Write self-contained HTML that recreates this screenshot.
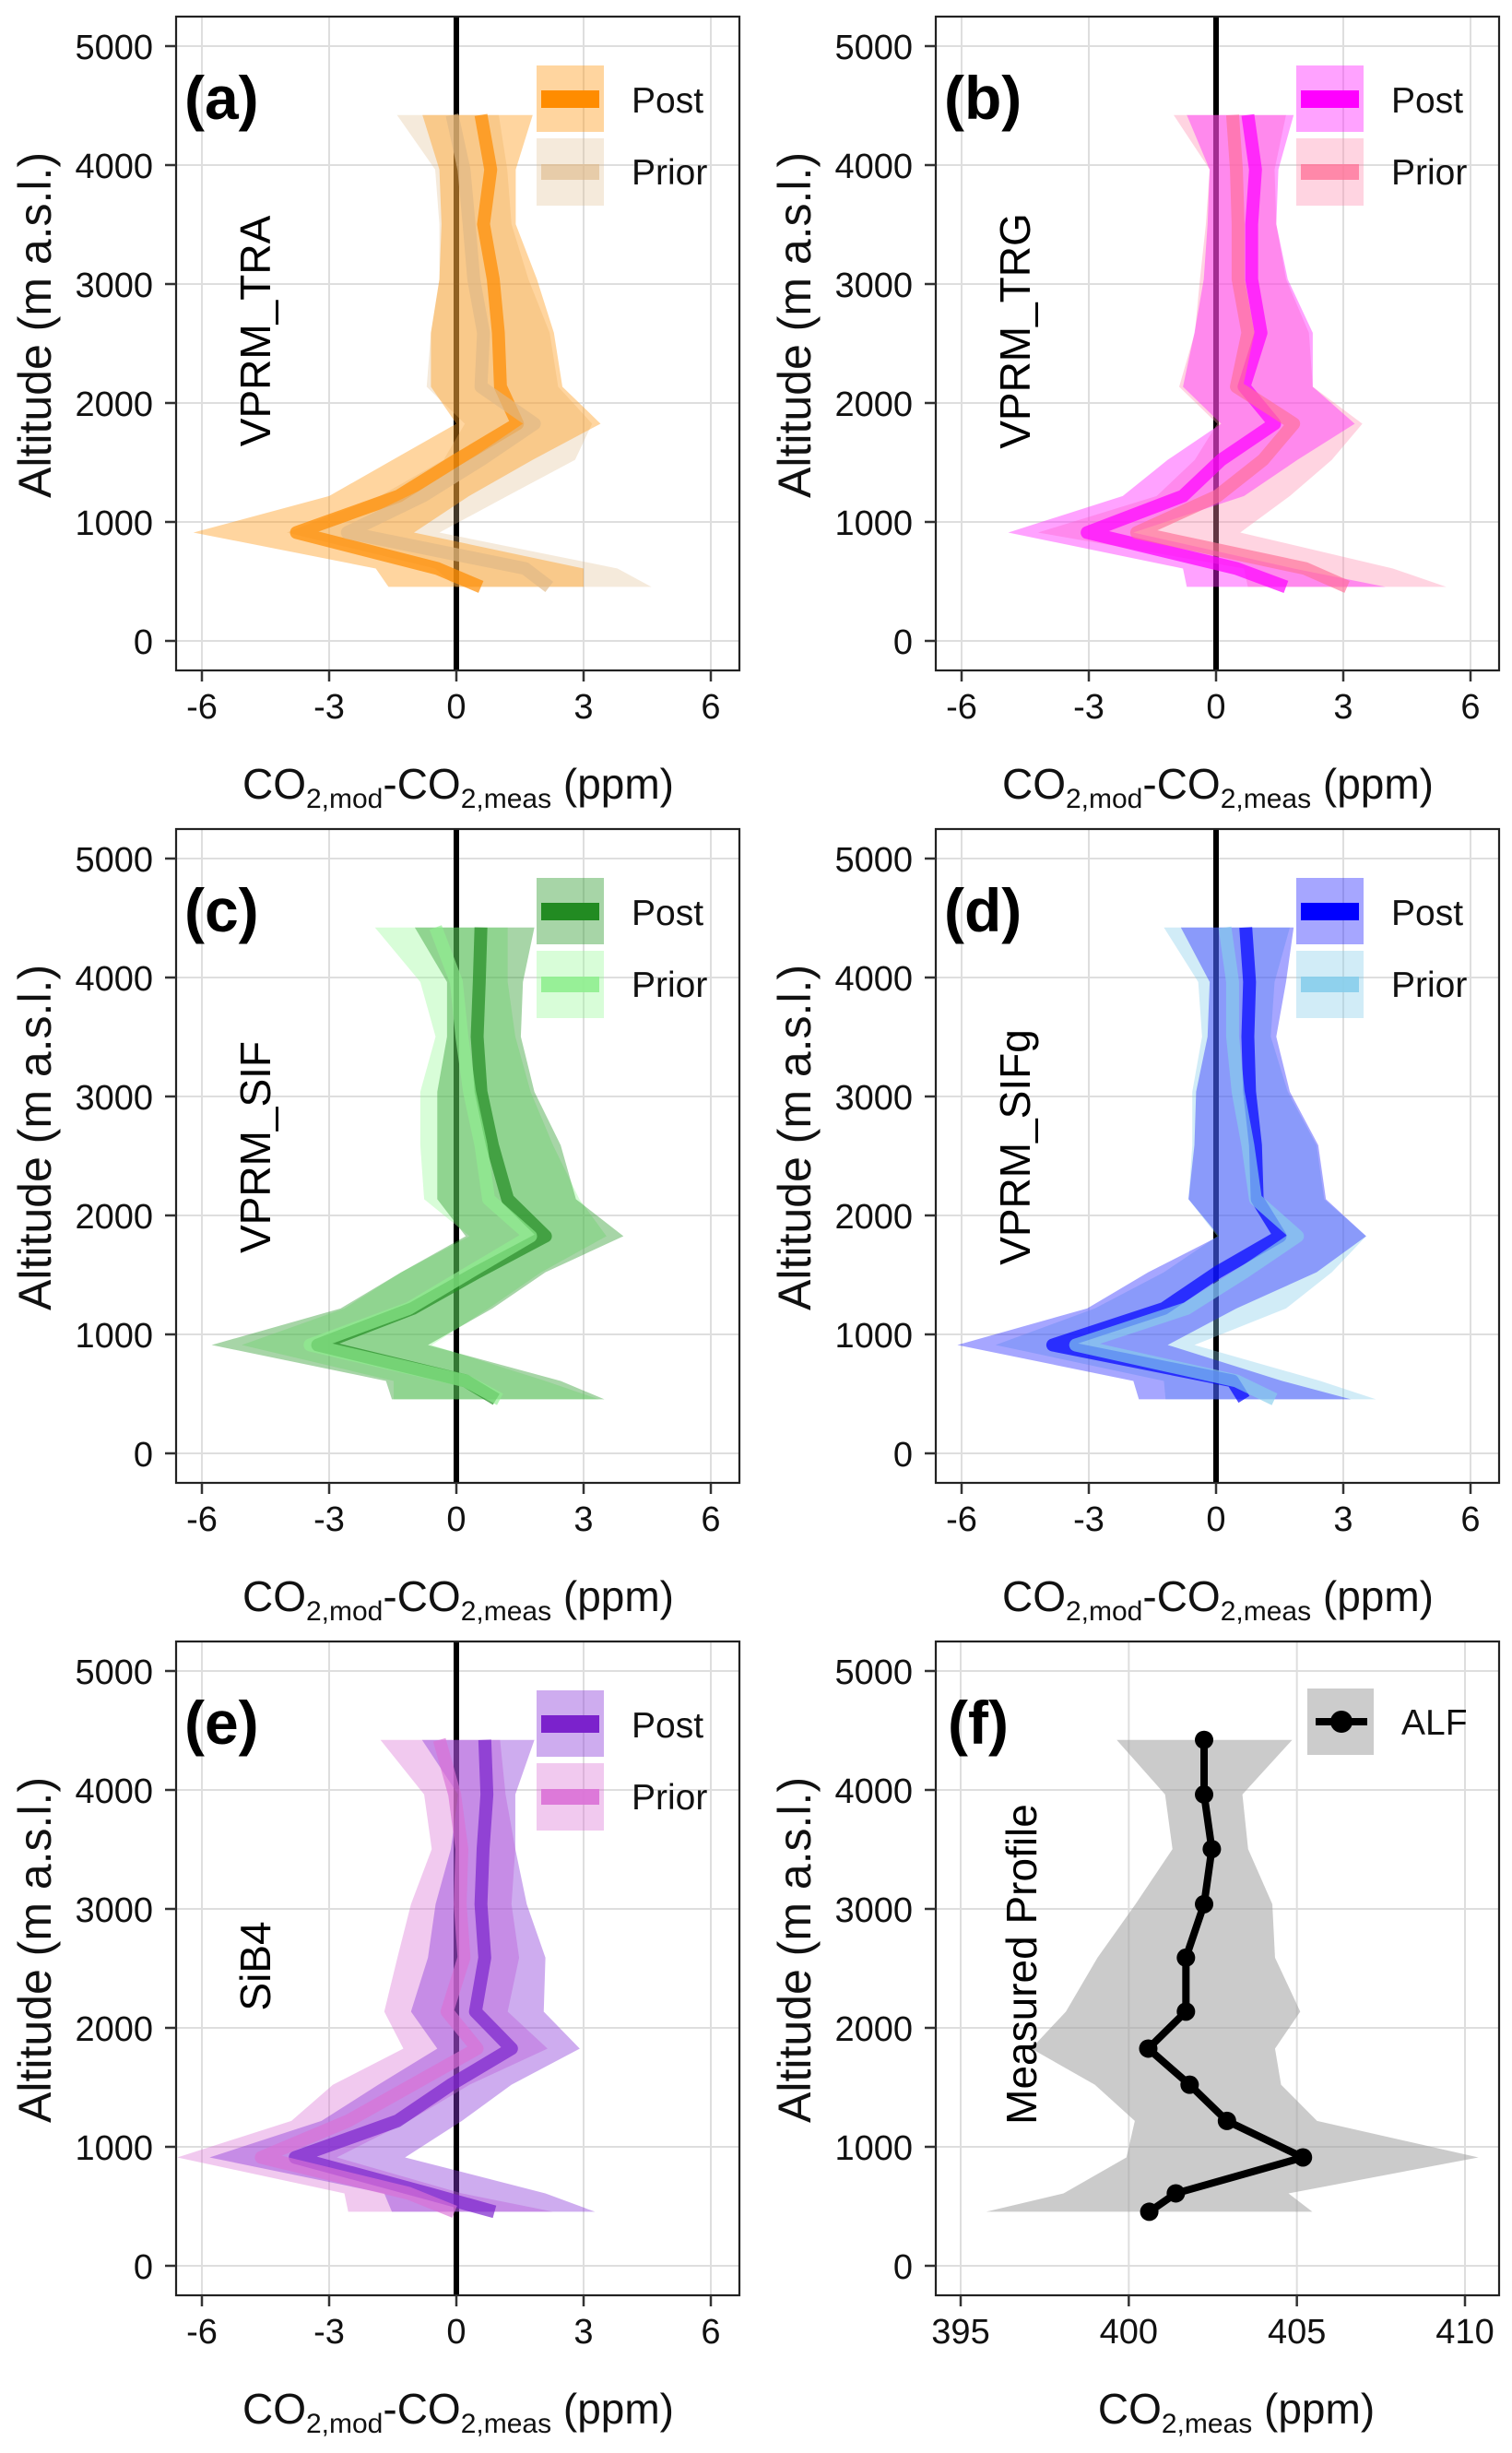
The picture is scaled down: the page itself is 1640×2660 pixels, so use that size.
<!DOCTYPE html>
<html><head><meta charset="utf-8"><title>CO2 profiles</title>
<style>
html,body{margin:0;padding:0;background:#fff;}
svg{display:block;font-family:"Liberation Sans",Arial,sans-serif;}
</style></head>
<body>
<svg id="fig" width="1640" height="2660" viewBox="0 0 1640 2660" xmlns="http://www.w3.org/2000/svg"></svg>
<script>
// ---------- data ----------
const alts = [4421,3962,3503,3040,2590,2137,1826,1522,1218,911,609,454];
const xTicks = [-6,-3,0,3,6];
const xTickLabels = ["-6","-3","0","3","6"];
const yTicks = [0,1000,2000,3000,4000,5000];
const yTickLabels = ["0","1000","2000","3000","4000","5000"];
const fTicks = [395,400,405,410];
const fTickLabels = ["395","400","405","410"];

// panel a VPRM_TRA
const aPost = [0.58,0.81,0.64,0.87,0.99,1.04,1.44,0.01,-1.36,-3.77,-0.45,0.58];
const aPrior = [-0.1,0.18,0.3,0.41,0.64,0.58,1.84,0.58,-0.79,-2.57,1.62,2.19];
const aPostLo = [-0.8,-0.4,-0.35,-0.4,-0.6,-0.6,0.0,-1.5,-3.0,-6.2,-1.9,-1.6];
const aPostHi = [1.8,1.4,1.4,1.9,2.3,2.5,3.4,1.8,0.3,-1.0,3.0,3.0];
const aPriorLo = [-1.4,-0.5,-0.4,-0.4,-0.6,-0.7,0.2,-0.3,-1.8,-4.0,-0.5,0.0];
const aPriorHi = [1.0,1.2,1.3,1.7,2.2,2.4,3.2,2.8,1.2,-0.4,3.8,4.6];
// panel b VPRM_TRG
const bPost = [0.75,0.93,0.84,0.84,1.06,0.66,1.38,0.12,-0.78,-3.04,0.48,1.65];
const bPrior = [0.39,0.48,0.52,0.52,0.75,0.48,1.83,1.11,0.03,-1.87,2.1,3.09];
const bPostLo = [-0.69,-0.15,-0.2,-0.29,-0.51,-0.78,0.12,-1.14,-2.2,-4.9,-0.78,-0.69];
const bPostHi = [1.83,1.47,1.42,1.69,2.28,2.28,3.27,1.92,0.66,-1.95,1.83,4.0];
const bPriorLo = [-1.0,-0.15,-0.24,-0.38,-0.5,-0.87,0.03,-0.5,-1.4,-4.2,0.66,0.75];
const bPriorHi = [1.65,1.38,1.42,1.65,2.19,2.28,3.45,2.73,1.74,0.57,4.17,5.43];
// panel c VPRM_SIF
const cPost = [0.58,0.54,0.49,0.58,0.85,1.21,2.1,0.49,-1.03,-3.27,0.22,0.94];
const cPrior = [-0.49,0.0,0.13,0.31,0.58,0.76,1.75,0.31,-1.12,-3.45,0.22,1.03];
const cPostLo = [-0.98,-0.22,-0.22,-0.45,-0.45,-0.45,0.22,-1.3,-2.73,-5.77,-1.66,-1.52];
const cPostHi = [1.84,1.57,1.52,1.84,2.46,2.82,3.94,2.1,0.85,-0.67,2.46,3.49];
const cPriorLo = [-1.92,-0.85,-0.49,-0.85,-0.85,-0.76,0.31,-1.3,-2.64,-5.06,-1.48,-1.48];
const cPriorHi = [1.21,1.21,1.39,1.75,2.28,2.9,3.54,2.0,0.76,-0.58,2.1,3.36];
// panel d VPRM_SIFg
const dPost = [0.7,0.79,0.75,0.79,0.93,0.97,1.51,0.03,-1.23,-3.85,0.39,0.66];
const dPrior = [0.21,0.39,0.39,0.52,0.75,0.93,1.92,0.66,-0.69,-3.31,0.48,1.38];
const dPostLo = [-0.83,-0.15,-0.2,-0.47,-0.51,-0.65,0.07,-1.6,-3.04,-6.1,-1.95,-1.82];
const dPostHi = [1.83,1.65,1.42,1.74,2.41,2.59,3.54,2.37,0.48,-1.14,1.56,3.18];
const dPriorLo = [-1.23,-0.42,-0.33,-0.56,-0.56,-0.65,0.03,-1.23,-2.86,-5.2,-1.23,-1.19];
const dPriorHi = [1.74,1.38,1.29,1.69,2.37,2.55,3.54,2.73,1.65,-0.51,2.46,3.77];
// panel e SiB4
const ePost = [0.67,0.72,0.63,0.58,0.67,0.45,1.3,-0.13,-1.39,-3.8,-0.67,0.9];
const ePrior = [-0.4,-0.04,0.13,0.09,0.18,-0.22,0.49,-1.03,-2.55,-4.6,-1.12,-0.04];
const ePostLo = [-0.81,0.04,-0.13,-0.49,-0.67,-1.07,-0.45,-1.84,-3.18,-5.82,-1.7,-1.52];
const ePostHi = [1.84,1.39,1.39,1.66,2.1,2.06,2.91,1.3,0.13,-1.21,2.1,3.27];
const ePriorLo = [-1.79,-0.76,-0.58,-1.07,-1.39,-1.7,-1.25,-2.91,-3.89,-6.58,-2.64,-2.55];
const ePriorHi = [1.03,1.16,1.39,1.3,1.48,1.21,2.15,0.31,-1.12,-2.82,0.13,2.28];
// panel f measured profile ALF
const fMean = [402.24,402.24,402.47,402.24,401.70,401.70,400.58,401.81,402.92,405.18,401.40,400.61];
const fLo = [399.64,401.08,401.30,400.2,399.07,398.13,397.1,398.99,400.18,399.93,398.06,395.76];
const fHi = [404.86,403.38,403.55,404.27,404.35,405.1,404.35,404.53,405.6,410.4,404.75,405.46];

// ---------- drawing ----------
const NS = "http://www.w3.org/2000/svg";
const svg = document.getElementById("fig");
function mk(tag, attrs, parent){
  const e = document.createElementNS(NS, tag);
  for (const k in attrs) e.setAttribute(k, attrs[k]);
  (parent || svg).appendChild(e);
  return e;
}
const BOX = {l:191, r:802, t:18, b:727};
function yScale(oy, alt){ return oy + 695 - alt*0.129; }

function drawFrame(g, ox, oy, xs, ticks){
  for (const t of ticks){
    const x = xs(t);
    const gl = mk("line",{x1:x,x2:x,y1:oy+BOX.t,y2:oy+BOX.b,stroke:"#dedede","stroke-width":2},g);
    
    
  }
  for (const t of yTicks){
    const y = yScale(oy,t);
    const gl = mk("line",{x1:ox+BOX.l,x2:ox+BOX.r,y1:y,y2:y,stroke:"#dedede","stroke-width":2},g);
    
    
  }
}
function drawAxes(g, ox, oy, xs, ticks, labels, xTitleParts, xTitleCx){
  const fr = mk("rect",{x:ox+BOX.l,y:oy+BOX.t,width:BOX.r-BOX.l,height:BOX.b-BOX.t,fill:"none",stroke:"#222","stroke-width":2.2},g);
  
  
  yTicks.forEach((t,i)=>{
    const y = yScale(oy,t);
    const tk = mk("line",{x1:ox+BOX.l-12,x2:ox+BOX.l,y1:y,y2:y,stroke:"#333","stroke-width":2.5},g);
    
    
    const tx = mk("text",{x:ox+166,y:y+14,"text-anchor":"end","font-size":38,fill:"#111"},g);
    tx.textContent = yTickLabels[i];
    
    
  });
  ticks.forEach((t,i)=>{
    const x = xs(t);
    const tk = mk("line",{x1:x,x2:x,y1:oy+BOX.b,y2:oy+BOX.b+12,stroke:"#333","stroke-width":2.5},g);
    
    
    const tx = mk("text",{x:x,y:oy+779,"text-anchor":"middle","font-size":38,fill:"#111"},g);
    tx.textContent = labels[i];
    
    
  });
  const yt = mk("text",{x:0,y:0,transform:`translate(${ox+55},${oy+540}) rotate(-90)`,"font-size":50,fill:"#111"},g);
  yt.textContent = "Altitude (m a.s.l.)";
  
  
  const xt = mk("text",{x:ox+xTitleCx,y:oy+866,"text-anchor":"middle","font-size":46,fill:"#111"},g);
  
  
  for (const p of xTitleParts){
    const ts = mk("tspan",{},xt);
    if (p[1]==="sub"){ ts.setAttribute("font-size",30); ts.setAttribute("dy",10); }
    else if (p[1]==="up"){ ts.setAttribute("dy",-10); }
    ts.textContent = p[0];
  }
}
function ribbon(g, xs, oy, lo, hi, color, op, name){
  const pts = [];
  for (let i=0;i<alts.length;i++) pts.push(xs(lo[i])+","+yScale(oy,alts[i]));
  for (let i=alts.length-1;i>=0;i--) pts.push(xs(hi[i])+","+yScale(oy,alts[i]));
  const p = mk("polygon",{points:pts.join(" "),fill:color,"fill-opacity":op},g);
  
  
}
function line(g, xs, oy, vals, color, op, w, name){
  const pts = vals.map((v,i)=>xs(v)+","+yScale(oy,alts[i]));
  const p = mk("polyline",{points:pts.join(" "),fill:"none",stroke:color,"stroke-opacity":op,"stroke-width":w,"stroke-linejoin":"round"},g);
  
  
}
const modelTitle = [["CO"],["2,mod","sub"],["-CO","up"],["2,meas","sub"],[" (ppm)","up"]];

function modelPanel(ox, oy, letter, model, labelCy, post, prior, postLo, postHi, priorLo, priorHi, cPost, cPostBand, postBandOp, cPrior, cPriorBand, priorBandOp, priorLineOp){
  const g = mk("g",{});
  
  
  const xs = v => ox + 219 + (v+6)/12*552;
  drawFrame(g, ox, oy, xs, xTicks);
  const z = mk("line",{x1:xs(0),x2:xs(0),y1:oy+BOX.t,y2:oy+BOX.b,stroke:"#000","stroke-width":6},g);
  
  
  ribbon(g, xs, oy, priorLo, priorHi, cPriorBand, priorBandOp, 'prior-band');
  ribbon(g, xs, oy, postLo, postHi, cPostBand, postBandOp, 'post-band');
  line(g, xs, oy, post, cPost, 0.7, 14, 'post-line');
  line(g, xs, oy, prior, cPrior, 0.65, 14, 'prior-line');
  drawAxes(g, ox, oy, xs, xTicks, xTickLabels, modelTitle, 497);
  const pl = mk("text",{x:ox+200,y:oy+129,"font-size":66,"font-weight":"bold",fill:"#000"},g);
  pl.textContent = "("+letter+")";
  
  
  const ml = mk("text",{x:0,y:0,transform:`translate(${ox+293},${oy+labelCy}) rotate(-90)`,"text-anchor":"middle","font-size":46,fill:"#000"},g);
  ml.textContent = model;
  
  
  const lg = mk("g",{},g);
  
  
  const k1 = mk("rect",{x:ox+582,y:oy+71,width:73,height:72,fill:cPostBand,"fill-opacity":postBandOp},lg);
  
  
  mk("rect",{x:ox+587,y:oy+98,width:63,height:19,fill:cPost},lg);
  const k2 = mk("rect",{x:ox+582,y:oy+150,width:73,height:73,fill:cPriorBand,"fill-opacity":priorBandOp},lg);
  
  
  mk("rect",{x:ox+587,y:oy+178,width:63,height:17,fill:cPrior,"fill-opacity":priorLineOp},lg);
  const t1 = mk("text",{x:ox+685,y:oy+122,"font-size":39,fill:"#111"},lg);
  t1.textContent = "Post";
  
  
  const t2 = mk("text",{x:ox+685,y:oy+200,"font-size":39,fill:"#111"},lg);
  t2.textContent = "Prior";
  
  
}

modelPanel(0,0,"a","VPRM_TRA",359,aPost,aPrior,aPostLo,aPostHi,aPriorLo,aPriorHi,"#ff8c00","#ff9a1a",0.42,"#deb887","#deb887",0.3,0.6);
modelPanel(824,0,"b","VPRM_TRG",359,bPost,bPrior,bPostLo,bPostHi,bPriorLo,bPriorHi,"#ff00ff","#ff22ff",0.42,"#ff6f96","#ff8fb0",0.38,0.75);
modelPanel(0,881,"c","VPRM_SIF",363,cPost,cPrior,cPostLo,cPostHi,cPriorLo,cPriorHi,"#228b22","#2e9a2e",0.42,"#90ee90","#98fb98",0.38,0.9);
modelPanel(824,881,"d","VPRM_SIFg",363,dPost,dPrior,dPostLo,dPostHi,dPriorLo,dPriorHi,"#0000ff","#2020ff",0.4,"#87ceeb","#87ceeb",0.38,0.9);
modelPanel(0,1762,"e","SiB4",370,ePost,ePrior,ePostLo,ePostHi,ePriorLo,ePriorHi,"#7b22cc","#8a3ad8",0.42,"#da70d6","#da70d6",0.38,0.9);

// panel f
(function(){
  const ox = 824, oy = 1762;
  const g = mk("g",{});
  
  
  const xs = v => ox + 218 + (v-395)/15*547;
  drawFrame(g, ox, oy, xs, fTicks);
  ribbon(g, xs, oy, fLo, fHi, "#a0a0a0", 0.55, 'measurement-band');
  line(g, xs, oy, fMean, "#000", 1, 8, 'alf-line');
  fMean.forEach((v,i)=>{
    const c = mk("circle",{cx:xs(v),cy:yScale(oy,alts[i]),r:10,fill:"#000"},g);
    
    
  });
  drawAxes(g, ox, oy, xs, fTicks, fTickLabels, [["CO"],["2,meas","sub"],[" (ppm)","up"]], 517);
  const pl = mk("text",{x:ox+204,y:oy+129,"font-size":66,"font-weight":"bold",fill:"#000"},g);
  pl.textContent = "(f)";
  
  
  const ml = mk("text",{x:0,y:0,transform:`translate(${ox+300},${oy+368}) rotate(-90)`,"text-anchor":"middle","font-size":46,fill:"#000"},g);
  ml.textContent = "Measured Profile";
  
  
  const lg = mk("g",{},g);
  
  
  const kb = mk("rect",{x:ox+594,y:oy+69,width:72,height:72,fill:"#cccccc"},lg);
  
  
  mk("line",{x1:ox+603,x2:ox+659,y1:oy+105,y2:oy+105,stroke:"#000","stroke-width":8},lg);
  mk("circle",{cx:ox+631,cy:oy+105,r:12,fill:"#000"},lg);
  const t = mk("text",{x:ox+696,y:oy+119,"font-size":39,fill:"#111"},lg);
  t.textContent = "ALF";
  
  
})();
</script>
</body></html>
